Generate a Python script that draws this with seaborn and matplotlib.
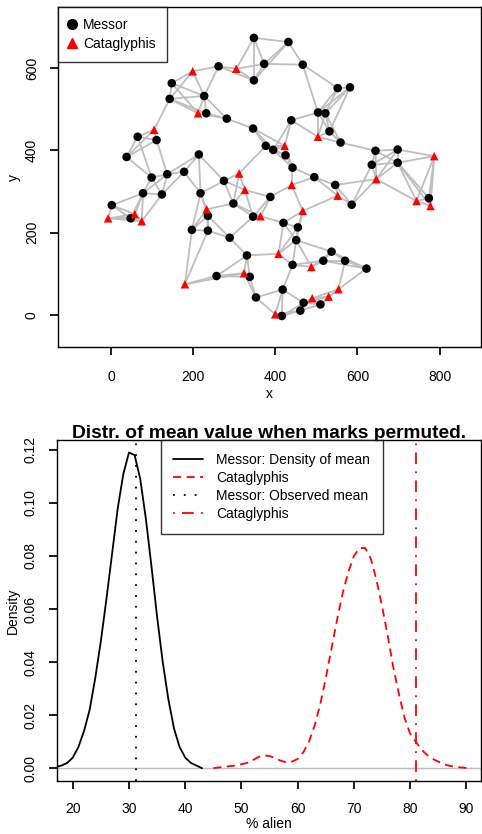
import matplotlib
matplotlib.use("Agg")
import matplotlib.pyplot as plt
import numpy as np
import pandas as pd
import seaborn as sns
from matplotlib.collections import LineCollection
from matplotlib.lines import Line2D

# ant nest locations
messor_x = [348, 432, 262, 373, 467, 348, 148, 227, 143, 232, 282, 346, 439, 552, 582,
            504, 522, 532, 559, 377, 395, 425, 442, 495, 644, 698, 635, 698, 65, 111,
            38, 214, 99, 137, 178, 275, 78, 124, 218, 2, 48, 236, 197, 236, 298, 388,
            346, 420, 455, 289, 451, 331, 442, 257, 338, 353, 418, 469, 510, 461, 416,
            546, 586, 774, 537, 517, 570, 622]
messor_y = [673, 663, 604, 610, 608, 570, 563, 532, 525, 490, 477, 453, 473, 551, 553,
            492, 490, 446, 419, 411, 401, 388, 358, 335, 399, 402, 365, 370, 433, 425,
            384, 390, 334, 342, 348, 326, 296, 293, 296, 267, 235, 241, 207, 205, 271, 287,
            239, 224, 213, 188, 182, 145, 122, 95, 93, 43, 62, 30, 26, 11, -2,
            316, 268, 284, 154, 132, 132, 113]
catag_x = [305, 199, 212, 105, 423, 504, 787, 646, 312, 326, 440, 552, 467, 364,
           233, 58, -7, 75, 744, 778, 408, 488, 324, 180, 554, 530, 490, 400]
catag_y = [598, 592, 490, 450, 411, 433, 386, 330, 344, 304, 316, 290, 253, 240,
           257, 245, 235, 228, 277, 265, 149, 117, 102, 75, 63, 45, 41, 2]
n_neighbours = 4

# permutation densities of "% alien"
alien_grid = [15, 16, 17, 18, 19, 20, 21, 22, 23, 24, 25, 26, 27, 28, 29, 30, 31, 32, 33,
              34, 35, 36, 37, 38, 39, 40, 41, 42, 43]
messor_density = [0.0, 0.0002, 0.0005, 0.001, 0.002, 0.004, 0.008, 0.014, 0.022, 0.034,
                  0.048, 0.064, 0.081, 0.098, 0.111, 0.119, 0.118, 0.109, 0.094, 0.076,
                  0.057, 0.040, 0.026, 0.015, 0.008, 0.004, 0.002, 0.001, 0.0]
catag_grid = [45, 46, 47, 48, 49, 50, 51, 52, 53, 54, 55, 56, 57, 58, 59, 60, 61, 62, 63,
              64, 65, 66, 67, 68, 69, 70, 71, 72, 73, 74, 75, 76, 77, 78, 79, 80, 81, 82,
              83, 84, 85, 86, 87, 88, 89, 90, 91]
catag_density = [0.0, 0.0003, 0.0005, 0.0008, 0.001, 0.0015, 0.002, 0.003, 0.0042, 0.0048,
                 0.0046, 0.0038, 0.0028, 0.0022, 0.0025, 0.0035, 0.006, 0.010, 0.016, 0.024,
                 0.034, 0.045, 0.056, 0.066, 0.074, 0.080, 0.083, 0.083, 0.079, 0.071,
                 0.061, 0.050, 0.038, 0.028, 0.019, 0.013, 0.010, 0.007, 0.005, 0.0035,
                 0.0025, 0.0015, 0.0009, 0.0005, 0.0003, 0.0001, 0.0]
messor_observed = 31.3
catag_observed = 81.0

sns.set_theme(style="white")
plt.rcParams["font.family"] = ["Liberation Sans", "DejaVu Sans"]
plt.rcParams["text.color"] = "black"
plt.rcParams["axes.labelcolor"] = "black"
plt.rcParams["axes.titlecolor"] = "black"
plt.rcParams["axes.linewidth"] = 1.0
plt.rcParams["xtick.major.size"] = 5.8
plt.rcParams["ytick.major.size"] = 5.8
plt.rcParams["xtick.color"] = "black"
plt.rcParams["ytick.color"] = "black"

DASHED = (0, (4.5, 3))
DOTTED = (0, (1, 5))
DASHDOT = (0, (1, 4, 6.5, 4))

nests = pd.DataFrame({
    "x": messor_x + catag_x,
    "y": messor_y + catag_y,
    "species": ["Messor"] * len(messor_x) + ["Cataglyphis"] * len(catag_x),
})

# symmetric k-nearest-neighbour graph between nests
coords = nests[["x", "y"]].to_numpy(dtype=float)
dist = np.hypot(coords[:, None, 0] - coords[None, :, 0], coords[:, None, 1] - coords[None, :, 1])
np.fill_diagonal(dist, np.inf)
edges = set()
for i in range(len(coords)):
    for j in np.argsort(dist[i])[:n_neighbours]:
        edges.add((min(i, j), max(i, j)))
segments = [[coords[i], coords[j]] for i, j in sorted(edges)]


def style_axis(ax, xpad):
    ax.tick_params(labelsize=10, direction="out", left=True, bottom=True)
    ax.tick_params(axis="x", pad=xpad)
    ax.tick_params(axis="y", pad=8)
    for sp in ax.spines.values():
        sp.set_color("black")


fig = plt.figure(figsize=(4.82, 8.34), dpi=100)

ax1 = fig.add_axes([0.1203, 0.5836, 0.8777, 0.408])
ax1.add_collection(LineCollection(segments, colors="#BEBEBE", linewidths=1.3, zorder=1))
sns.scatterplot(data=nests, x="x", y="y", hue="species", style="species",
                palette={"Messor": "black", "Cataglyphis": "red"},
                markers={"Messor": "o", "Cataglyphis": "^"},
                s=38, linewidth=0, ax=ax1, zorder=2, legend=False)
ax1.set_xlim(-129, 901)
ax1.set_ylim(-78, 748)
ax1.set_xticks([0, 200, 400, 600, 800])
ax1.set_yticks([0, 200, 400, 600])
ax1.set_yticklabels(["0", "200", "400", "600"], rotation=90, va="center")
ax1.set_xlabel("x", fontsize=10, labelpad=2)
ax1.set_ylabel("y", fontsize=10, labelpad=3)
style_axis(ax1, 10.5)
handles1 = [
    Line2D([], [], marker="o", color="black", linestyle="none", markersize=7),
    Line2D([], [], marker="^", color="red", linestyle="none", markersize=7),
]
leg1 = ax1.legend(handles1, ["Messor", "Cataglyphis"], loc="upper left", fontsize=10,
                  frameon=True, fancybox=False, edgecolor="black", borderaxespad=0,
                  handletextpad=0.6, handlelength=0.4, borderpad=0.8, labelspacing=0.35)
leg1.get_frame().set_linewidth(1.0)

ax2 = fig.add_axes([0.1183, 0.0636, 0.8797, 0.4088])
ax2.axhline(0, color="#BEBEBE", lw=1.0, zorder=0)
sns.lineplot(x=alien_grid, y=messor_density, color="black", lw=1.3, ax=ax2)
sns.lineplot(x=catag_grid, y=catag_density, color="red", lw=1.3, ax=ax2)
ax2.lines[-1].set_linestyle(DASHED)
ax2.axvline(messor_observed, color="black", lw=1.3, linestyle=DOTTED)
ax2.axvline(catag_observed, color="red", lw=1.3, linestyle=DASHDOT)
ax2.set_xlim(17.2, 92.6)
ax2.set_ylim(-0.0048, 0.1237)
ax2.set_xticks([20, 30, 40, 50, 60, 70, 80, 90])
ax2.set_yticks([0.0, 0.02, 0.04, 0.06, 0.08, 0.10, 0.12])
ax2.set_yticklabels(["0.00", "0.02", "0.04", "0.06", "0.08", "0.10", "0.12"],
                    rotation=90, va="center")
ax2.set_xlabel("% alien", fontsize=10, labelpad=1)
ax2.set_ylabel("Density", fontsize=10, labelpad=3)
ax2.set_title("Distr. of mean value when marks permuted.", fontsize=13.8,
              fontweight="bold", pad=1.5)
style_axis(ax2, 9)
handles2 = [
    Line2D([], [], color="black", lw=1.3),
    Line2D([], [], color="red", lw=1.3, linestyle=DASHED),
    Line2D([], [], color="black", lw=1.3, linestyle=DOTTED),
    Line2D([], [], color="red", lw=1.3, linestyle=DASHDOT),
]
leg2 = ax2.legend(handles2, ["Messor: Density of mean", "Cataglyphis",
                             "Messor: Observed mean", "Cataglyphis"],
                  loc="upper left", bbox_to_anchor=(0.245, 1.0), fontsize=10,
                  frameon=True, fancybox=False, edgecolor="black", borderaxespad=0,
                  handlelength=2.1, handletextpad=1.0, borderpad=0.9, labelspacing=0.3)
leg2.get_frame().set_linewidth(1.0)

fig.savefig("out.png", dpi=100)
